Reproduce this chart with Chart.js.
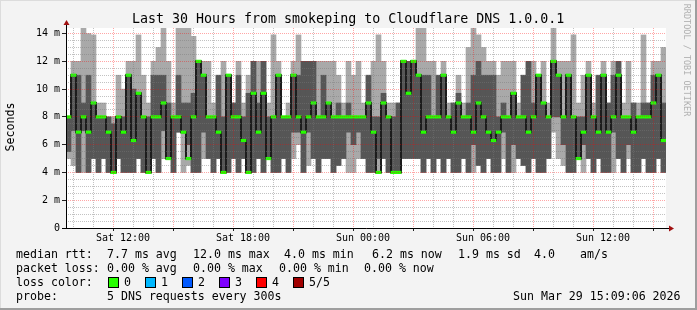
<!DOCTYPE html>
<html><head><meta charset="utf-8">
<script src="https://cdn.jsdelivr.net/npm/chart.js@4/dist/chart.umd.min.js"></script>
<style>
html,body{margin:0;padding:0;background:#f3f3f3;}
#wrap{position:relative;width:697px;height:310px;overflow:hidden;background:#f3f3f3;}
#c{position:absolute;left:0;top:0;}
.t{position:absolute;font-family:"DejaVu Sans Mono",monospace;white-space:pre;color:#000;line-height:14px;font-size:11.6px;}
.box{position:absolute;width:9px;height:9px;border:1px solid #000;}
#bR{position:absolute;right:0;top:0;width:2px;height:310px;background:#9e9e9e;}
#bB{position:absolute;left:0;bottom:0;width:697px;height:2px;background:#9e9e9e;}
#bT{position:absolute;left:0;top:0;width:697px;height:1px;background:#dcdcdc;}
#bL{position:absolute;left:0;top:0;width:1px;height:310px;background:#dcdcdc;}
</style></head>
<body>
<div id="wrap">
<canvas id="c" width="697" height="310"></canvas>
<div class="t" style="left:132px;top:11px;font-size:13.3px;line-height:16px;">Last 30 Hours from smokeping to Cloudflare DNS 1.0.0.1</div>
<div class="t" style="left:-40px;top:120px;width:100px;text-align:center;transform:rotate(-90deg);">Seconds</div>
<div class="t" style="left:627px;top:53px;width:120px;text-align:center;transform:rotate(90deg);font-size:8.5px;color:#b0b0b0;">RRDTOOL / TOBI OETIKER</div>

<div class="t" style="left:16px;top:247px;">median rtt:</div>
<div class="t" style="left:107px;top:247px;">7.7 ms avg</div>
<div class="t" style="left:193px;top:247px;">12.0 ms max</div>
<div class="t" style="left:284px;top:247px;">4.0 ms min</div>
<div class="t" style="left:372px;top:247px;">6.2 ms now</div>
<div class="t" style="left:458px;top:247px;">1.9 ms sd</div>
<div class="t" style="left:534px;top:247px;">4.0</div>
<div class="t" style="left:580px;top:247px;">am/s</div>

<div class="t" style="left:16px;top:261px;">packet loss:</div>
<div class="t" style="left:107px;top:261px;">0.00 % avg</div>
<div class="t" style="left:193px;top:261px;">0.00 % max</div>
<div class="t" style="left:279px;top:261px;">0.00 % min</div>
<div class="t" style="left:364px;top:261px;">0.00 % now</div>

<div class="t" style="left:16px;top:275px;">loss color:</div>
<div id="lossLegend"></div>

<div class="t" style="left:16px;top:289px;">probe:</div>
<div class="t" style="left:107px;top:289px;">5 DNS requests every 300s</div>
<div class="t" style="left:513px;top:289px;">Sun Mar 29 15:09:06 2026</div>

<div id="bT"></div><div id="bL"></div><div id="bR"></div><div id="bB"></div>
</div>
<script>
// ---- data (ms), one entry per 15-minute bin starting Sat 09:09 ----
const minVals  = [5,4.5,4,4,4,5,4,5,4,4,5,4,4,4,5,4,4,5,4,5,5,4,6.9,4,
                  4.5,4,4,5,5,4,5,4,4,5,4,5,4,4,5,4,5,4,4,5,4,5,6,4,
                  4.5,5,4,5,5,4,4.5,5,4,4,5,5,4,4,4,5,4,4,4,5,5,5,5,4,
                  5,4,5,4,5,4,4,5,4,4,4.5,4,5,4,4,5,4,4,5,4.5,4,5,4,4,
                  5,6.9,5,4.5,4,4,5,4,5,4,5,4,4,4,5,4,5,4,4,5,4,4,5,4];
const lowVals  = [5.5,7,4,7,4,5,4,5,4,4,5,4,4,4,5,4,4,5,4,7,5,4,6.9,6.9,
                  6,4,4,6.9,5,4,5,4,4,5,4,5,4,4,5,4,5,4,4,5,4,6.9,6.9,4,
                  6.9,5,4,5,5,4,4.5,5,6.9,6,6.9,5,4,4,5,5,4,4,4,5,5,5,5,4,
                  5,4,5,4,5,4,4,5,4,6,4.5,4,5,4,4,6.9,4,6,5,4.5,4,5,4,4,
                  5,8,8,6,4,4,5,6,5,4,5,4,4,6.9,5,4,6,4,4,5,4,4,5,4];
const highVals = [8,11,11,9,11,9,8,8,8,7.5,8,8,11,10,9.7,8,8,11,11,11,9,8,11,9,
                  9,9.7,12,11,8,8,11,8,11,9,11,8,9.7,12,9,12,8,8,11,8,8,11,11,12,
                  12,12,8,11,9,8,9,8,9,8,8,8,11,8,8,9.7,8,8,9,12,12,12,11,11,
                  11,8,11,11,8,9,9.7,8,9,11,12,11,11,11,8,9,8,9.7,8,11,12,9,11,9,
                  8,12,11,8,11,8,8,8,11,8,11,11,9,11,12,8,8,9,8,9,9,11,11,9];
const maxVals  = [8,12,12,14.4,14,13.9,9,9,8,8,11,10,12,12,13.9,11,9,12,13,14.4,12,9,14.4,14.4,
                  14.4,13.8,12,12,12,9,11,12,11,9,12,9,11,12,12,12,9,13.9,12,8,9,12,13.9,12,
                  12,12,12,12,12,12,11,9,12,11,12,9,11,12,13.9,12,9,9,9,12,12,12,14.4,14.4,
                  12,12,11,12,9,9,11,9,13,14.4,13.9,13,12,12,11,12,12,12,9,11,12,12,11,12,
                  9,14.4,12,12,12,13.9,9,11,12,9,11,12,9,12,12,9,12,9,9,13.9,9,12,12,13];
const medianVals = [8,11,6.9,8,6.9,9,8,8,6.9,4,8,6.9,11,6.3,9.7,8,4,8,8,9,5,8,8,6.9,
                  5,8,12,11,8,8,6.9,4,11,8,8,6.3,4,9.7,6.9,9.7,5,8,11,8,8,11,8,6.9,
                  8,9,8,8,9,8,8,8,8,8,8,8,9,6.9,4,9,8,4,4,12,9.7,12,11,6.9,
                  8,8,8,11,8,6.9,9,8,8,6.9,9,8,6.9,6.3,6.9,8,8,9.7,8,8,6.9,8,11,9,
                  8,12,11,8,11,8,5,6.9,11,8,6.9,11,6.9,8,11,8,8,6.9,8,8,8,9,11,6.3];

// time axis (hours since Sat 00:00)
const startHour = 9.15, endHour = 39.15, binHours = 0.25;
const xTickHours  = [12, 18, 24, 30, 36];
const xTickLabels = ['Sat 12:00', 'Sat 18:00', 'Sun 00:00', 'Sun 06:00', 'Sun 12:00'];
const yTickValues = [0, 2, 4, 6, 8, 10, 12, 14];
const yTickLabels = ['0', '2 m', '4 m', '6 m', '8 m', '10 m', '12 m', '14 m'];
const lossColors = ['#26ff00', '#00b8ff', '#0059ff', '#7e00ff', '#ff0000', '#a10000'];
const lossLabels = ['0', '1', '2', '3', '4', '5/5'];

// legend boxes
(function(){
  const host = document.getElementById('lossLegend');
  const bx = [108, 145, 182, 219, 256, 293];
  lossColors.forEach((c, i) => {
    const b = document.createElement('div'); b.className = 'box';
    b.style.left = bx[i] + 'px'; b.style.top = '277px'; b.style.background = c; host.appendChild(b);
    const t = document.createElement('div'); t.className = 't';
    t.style.left = (bx[i] + 16) + 'px'; t.style.top = '275px'; t.textContent = lossLabels[i]; host.appendChild(t);
  });
})();

const xs = minVals.map((_, i) => startHour + (i + 0.5) * binHours);
const range = (a, b) => a.map((v, i) => ({x: xs[i], y: [v, b[i]]}));
const medBand = medianVals.map((m, i) => ({x: xs[i], y: [m - 0.09, m + 0.09]}));
const medLine = medianVals.map((m, i) => ({x: xs[i], y: m}));

const hourTicks = []; for (let h = 10; h <= 39; h++) hourTicks.push(h);
const halfTicks = []; for (let v = 0; v <= 14; v += 0.5) halfTicks.push(v);

const frame = {
  id: 'frame',
  beforeDraw(chart) {
    const {ctx, chartArea: a} = chart;
    ctx.save(); ctx.fillStyle = '#ffffff';
    ctx.fillRect(a.left, a.top, a.right - a.left, a.bottom - a.top);
    ctx.restore();
  },
  afterDraw(chart) {
    const {ctx, chartArea: a} = chart;
    ctx.save();
    ctx.strokeStyle = '#000'; ctx.lineWidth = 1;
    ctx.beginPath();
    ctx.moveTo(a.left + 0.5, a.bottom + 0.5); ctx.lineTo(a.left + 0.5, a.top - 4);
    ctx.moveTo(a.left - 4, a.bottom + 0.5); ctx.lineTo(a.right + 5, a.bottom + 0.5);
    ctx.stroke();
    ctx.fillStyle = '#a01010';
    ctx.beginPath();
    ctx.moveTo(a.left + 0.5, a.top - 8); ctx.lineTo(a.left - 2.5, a.top - 3); ctx.lineTo(a.left + 3.5, a.top - 3); ctx.closePath(); ctx.fill();
    ctx.beginPath();
    ctx.moveTo(a.right + 8, a.bottom + 0.5); ctx.lineTo(a.right + 3, a.bottom - 2.5); ctx.lineTo(a.right + 3, a.bottom + 3.5); ctx.closePath(); ctx.fill();
    ctx.restore();
  }
};

new Chart(document.getElementById('c'), {
  type: 'bar',
  data: {
    datasets: [
      {type: 'bar', data: medBand, backgroundColor: '#26ff00', grouped: false, order: 1, barPercentage: 1, categoryPercentage: 1},
      {type: 'line', data: medLine, borderColor: '#1c1c1c', borderWidth: 2, pointRadius: 0, stepped: 'middle', order: 2},
      {type: 'bar', data: range(lowVals, highVals), backgroundColor: '#565656', grouped: false, order: 3, barPercentage: 1, categoryPercentage: 1},
      {type: 'bar', data: range(minVals, maxVals), backgroundColor: '#a9a9a9', grouped: false, order: 4, barPercentage: 1, categoryPercentage: 1}
    ]
  },
  options: {
    responsive: false, animation: false, devicePixelRatio: 1,
    layout: {padding: {left: 0, top: 28, right: 31, bottom: 0}},
    plugins: {legend: {display: false}, tooltip: {enabled: false}, title: {display: false}},
    scales: {
      x: {
        type: 'linear', min: startHour, max: endHour, offset: false,
        afterFit(s) { s.height = 82; },
        afterBuildTicks(s) { s.ticks = hourTicks.map(v => ({value: v})); },
        ticks: {autoSkip: false, maxRotation: 0, minRotation: 0, padding: 1, color: '#000',
          font: {family: 'DejaVu Sans Mono', size: 10},
          callback: (v) => { const i = xTickHours.indexOf(v); return i >= 0 ? xTickLabels[i] : ''; }},
        grid: {z: 1, lineWidth: 1, tickLength: 3,
          color: (c) => (c.tick && c.tick.value % 3 === 0) ? 'rgba(255,0,0,0.35)' : 'rgba(120,120,120,0.45)',
          tickColor: (c) => (c.tick && c.tick.value % 3 === 0) ? '#222' : 'rgba(0,0,0,0)'},
        border: {display: false, dash: [1, 1]}
      },
      y: {
        min: 0, max: 14.4,
        afterFit(s) { s.width = 66; },
        afterBuildTicks(s) { s.ticks = halfTicks.map(v => ({value: v})); },
        ticks: {autoSkip: false, padding: 2, color: '#000', font: {family: 'DejaVu Sans Mono', size: 10},
          callback: (v) => { const i = yTickValues.indexOf(v); return i >= 0 ? yTickLabels[i] : ''; }},
        grid: {z: 1, lineWidth: 1, tickLength: 4,
          color: (c) => (c.tick && c.tick.value % 2 === 0) ? 'rgba(255,0,0,0.35)' : 'rgba(120,120,120,0.45)',
          tickColor: (c) => (c.tick && c.tick.value % 2 === 0) ? '#222' : 'rgba(0,0,0,0)'},
        border: {display: false, dash: [1, 1]}
      }
    }
  },
  plugins: [frame]
});
</script>
</body></html>
